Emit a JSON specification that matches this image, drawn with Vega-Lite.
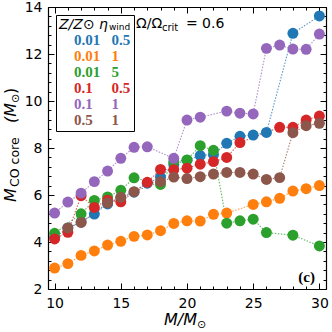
{
  "$schema": "https://vega.github.io/schema/vega-lite/v6.json",
  "width": 278,
  "height": 282,
  "autosize": {"type": "none"},
  "padding": {"left": 48, "top": 7, "right": 6, "bottom": 43},
  "background": "white",
  "config": {
    "view": {"stroke": null},
    "axis": {"grid": false, "domainColor": "black", "domainWidth": 1.2, "tickColor": "black", "tickWidth": 1, "labelFont": "DejaVu Sans", "labelFontSize": 14, "labelColor": "black"},
    "text": {"font": "DejaVu Sans", "color": "black"}
  },
  "datasets": {
    "runs": [
      {"model": "0.01|0.5", "M": 10, "Mco": 4.2}, {"model": "0.01|0.5", "M": 11, "Mco": 4.6}, {"model": "0.01|0.5", "M": 12, "Mco": 4.85}, {"model": "0.01|0.5", "M": 13, "Mco": 5.19}, {"model": "0.01|0.5", "M": 14, "Mco": 5.62}, {"model": "0.01|0.5", "M": 15, "Mco": 5.88}, {"model": "0.01|0.5", "M": 16, "Mco": 6.12}, {"model": "0.01|0.5", "M": 17, "Mco": 6.5}, {"model": "0.01|0.5", "M": 18, "Mco": 6.76}, {"model": "0.01|0.5", "M": 19, "Mco": 7.3}, {"model": "0.01|0.5", "M": 20, "Mco": 7.48}, {"model": "0.01|0.5", "M": 21, "Mco": 7.68}, {"model": "0.01|0.5", "M": 22, "Mco": 7.72}, {"model": "0.01|0.5", "M": 23, "Mco": 8.2}, {"model": "0.01|0.5", "M": 24, "Mco": 8.5}, {"model": "0.01|0.5", "M": 25, "Mco": 8.55}, {"model": "0.01|0.5", "M": 26, "Mco": 8.66}, {"model": "0.01|0.5", "M": 28, "Mco": 12.88}, {"model": "0.01|0.5", "M": 30, "Mco": 13.62},
      {"model": "0.01|1", "M": 10, "Mco": 2.89}, {"model": "0.01|1", "M": 11, "Mco": 3.08}, {"model": "0.01|1", "M": 12, "Mco": 3.43}, {"model": "0.01|1", "M": 13, "Mco": 3.62}, {"model": "0.01|1", "M": 14, "Mco": 3.87}, {"model": "0.01|1", "M": 15, "Mco": 4.03}, {"model": "0.01|1", "M": 16, "Mco": 4.24}, {"model": "0.01|1", "M": 17, "Mco": 4.3}, {"model": "0.01|1", "M": 18, "Mco": 4.48}, {"model": "0.01|1", "M": 19, "Mco": 4.79}, {"model": "0.01|1", "M": 20, "Mco": 4.9}, {"model": "0.01|1", "M": 21, "Mco": 4.89}, {"model": "0.01|1", "M": 22, "Mco": 5.18}, {"model": "0.01|1", "M": 23, "Mco": 5.23}, {"model": "0.01|1", "M": 25, "Mco": 5.6}, {"model": "0.01|1", "M": 26, "Mco": 5.71}, {"model": "0.01|1", "M": 27, "Mco": 5.86}, {"model": "0.01|1", "M": 28, "Mco": 6.17}, {"model": "0.01|1", "M": 29, "Mco": 6.27}, {"model": "0.01|1", "M": 30, "Mco": 6.4},
      {"model": "0.01|5", "M": 10, "Mco": 4.37}, {"model": "0.01|5", "M": 12, "Mco": 5.2}, {"model": "0.01|5", "M": 13, "Mco": 5.77}, {"model": "0.01|5", "M": 14, "Mco": 5.92}, {"model": "0.01|5", "M": 15, "Mco": 6.2}, {"model": "0.01|5", "M": 16, "Mco": 6.73}, {"model": "0.01|5", "M": 18, "Mco": 6.45}, {"model": "0.01|5", "M": 19, "Mco": 7.42}, {"model": "0.01|5", "M": 20, "Mco": 7.49}, {"model": "0.01|5", "M": 21, "Mco": 8.1}, {"model": "0.01|5", "M": 22, "Mco": 7.9}, {"model": "0.01|5", "M": 23, "Mco": 4.8}, {"model": "0.01|5", "M": 24, "Mco": 4.9}, {"model": "0.01|5", "M": 25, "Mco": 4.97}, {"model": "0.01|5", "M": 26, "Mco": 4.4}, {"model": "0.01|5", "M": 28, "Mco": 4.29}, {"model": "0.01|5", "M": 30, "Mco": 3.83},
      {"model": "0.1|0.5", "M": 10, "Mco": 4.13}, {"model": "0.1|0.5", "M": 11, "Mco": 4.41}, {"model": "0.1|0.5", "M": 12, "Mco": 5.97}, {"model": "0.1|0.5", "M": 13, "Mco": 5.47}, {"model": "0.1|0.5", "M": 14, "Mco": 5.78}, {"model": "0.1|0.5", "M": 15, "Mco": 5.71}, {"model": "0.1|0.5", "M": 17, "Mco": 6.54}, {"model": "0.1|0.5", "M": 18, "Mco": 7.09}, {"model": "0.1|0.5", "M": 19, "Mco": 7.08}, {"model": "0.1|0.5", "M": 20, "Mco": 7.14}, {"model": "0.1|0.5", "M": 21, "Mco": 7.31}, {"model": "0.1|0.5", "M": 22, "Mco": 7.42}, {"model": "0.1|0.5", "M": 23, "Mco": 7.6}, {"model": "0.1|0.5", "M": 24, "Mco": 8.23}, {"model": "0.1|0.5", "M": 27, "Mco": 8.88}, {"model": "0.1|0.5", "M": 28, "Mco": 8.88}, {"model": "0.1|0.5", "M": 29, "Mco": 9.19}, {"model": "0.1|0.5", "M": 30, "Mco": 9.36},
      {"model": "0.1|1", "M": 10, "Mco": 5.23}, {"model": "0.1|1", "M": 11, "Mco": 5.7}, {"model": "0.1|1", "M": 12, "Mco": 6.08}, {"model": "0.1|1", "M": 13, "Mco": 6.57}, {"model": "0.1|1", "M": 14, "Mco": 7.02}, {"model": "0.1|1", "M": 15, "Mco": 7.56}, {"model": "0.1|1", "M": 16, "Mco": 8.03}, {"model": "0.1|1", "M": 17, "Mco": 8.05}, {"model": "0.1|1", "M": 19, "Mco": 7.56}, {"model": "0.1|1", "M": 20, "Mco": 9.19}, {"model": "0.1|1", "M": 21, "Mco": 9.31}, {"model": "0.1|1", "M": 23, "Mco": 9.57}, {"model": "0.1|1", "M": 24, "Mco": 9.48}, {"model": "0.1|1", "M": 25, "Mco": 9.45}, {"model": "0.1|1", "M": 26, "Mco": 12.24}, {"model": "0.1|1", "M": 27, "Mco": 12.38}, {"model": "0.1|1", "M": 28, "Mco": 12.21}, {"model": "0.1|1", "M": 29, "Mco": 12.2}, {"model": "0.1|1", "M": 30, "Mco": 12.85},
      {"model": "0.5|1", "M": 11, "Mco": 4.6}, {"model": "0.5|1", "M": 12, "Mco": 4.83}, {"model": "0.5|1", "M": 14, "Mco": 5.66}, {"model": "0.5|1", "M": 15, "Mco": 5.9}, {"model": "0.5|1", "M": 16, "Mco": 6.14}, {"model": "0.5|1", "M": 18, "Mco": 6.57}, {"model": "0.5|1", "M": 19, "Mco": 6.76}, {"model": "0.5|1", "M": 20, "Mco": 6.7}, {"model": "0.5|1", "M": 21, "Mco": 6.78}, {"model": "0.5|1", "M": 22, "Mco": 6.89}, {"model": "0.5|1", "M": 23, "Mco": 6.96}, {"model": "0.5|1", "M": 24, "Mco": 6.96}, {"model": "0.5|1", "M": 25, "Mco": 6.89}, {"model": "0.5|1", "M": 26, "Mco": 6.66}, {"model": "0.5|1", "M": 27, "Mco": 6.74}, {"model": "0.5|1", "M": 28, "Mco": 8.65}, {"model": "0.5|1", "M": 29, "Mco": 8.95}, {"model": "0.5|1", "M": 30, "Mco": 9.05}
    ]
  },
  "data": {"name": "runs"},
  "resolve": {"axis": {"x": "independent", "y": "independent"}},
  "layer": [
    {
      "mark": {"type": "line", "strokeDash": [1.5, 1.5], "strokeWidth": 1.1, "opacity": 0.75},
      "encoding": {
        "x": {"field": "M", "type": "quantitative", "scale": {"domain": [9.5, 30.5], "nice": false, "zero": false}, "axis": {"orient": "bottom", "values": [10, 15, 20, 25, 30], "tickSize": -6, "labelPadding": 13, "title": null}},
        "y": {"field": "Mco", "type": "quantitative", "scale": {"domain": [2, 14], "nice": false, "zero": false}, "axis": {"orient": "left", "values": [2, 4, 6, 8, 10, 12, 14], "tickSize": -6, "labelPadding": 12, "title": null}},
        "color": {
          "field": "model", "type": "nominal",
          "scale": {"domain": ["0.01|0.5", "0.01|1", "0.01|5", "0.1|0.5", "0.1|1", "0.5|1"], "range": ["#1f77b4", "#ff7f0e", "#2ca02c", "#d62728", "#9467bd", "#8c564b"]},
          "legend": {
            "orient": "top-left", "offset": 8,
            "title": "Z/Z⊙\u00a0η",
            "titleFont": "DejaVu Sans", "titleFontStyle": "italic", "titleFontWeight": "normal", "titleFontSize": 14, "titleColor": "black", "titlePadding": 0,
            "labelFont": "Liberation Serif", "labelFontWeight": "bold", "labelFontSize": 15, "labelLimit": 300,
            "labelExpr": "{'0.01|0.5': '0.01\u00a0\u00a0\u00a00.5', '0.01|1': '0.01\u00a0\u00a0\u00a01', '0.01|5': '0.01\u00a0\u00a0\u00a05', '0.1|0.5': '0.1\u00a0\u00a0\u00a0\u00a0\u00a00.5', '0.1|1': '0.1\u00a0\u00a0\u00a0\u00a0\u00a01', '0.5|1': '0.5\u00a0\u00a0\u00a0\u00a0\u00a01'}[datum.label]",
            "symbolSize": 0, "symbolStrokeWidth": 0, "symbolOpacity": 0, "labelOffset": 0,
            "rowPadding": -3, "padding": 3,
            "strokeColor": "black", "fillColor": null, "cornerRadius": 0,
            "encode": {"labels": {"update": {"fill": {"scale": "color", "field": "value"}}}}
          }
        }
      }
    },
    {
      "mark": {"type": "circle", "size": 120, "opacity": 1},
      "encoding": {
        "x": {"field": "M", "type": "quantitative", "scale": {"domain": [9.5, 30.5], "nice": false, "zero": false}, "axis": {"orient": "top", "values": [10, 15, 20, 25, 30], "tickSize": -6, "labels": false, "title": null}},
        "y": {"field": "Mco", "type": "quantitative", "scale": {"domain": [2, 14], "nice": false, "zero": false}, "axis": {"orient": "right", "values": [2, 4, 6, 8, 10, 12, 14], "tickSize": -6, "labels": false, "title": null}},
        "color": {"field": "model", "type": "nominal", "legend": null}
      }
    },
    {
      "data": {"values": [{}]},
      "mark": {"type": "text", "text": "(c)", "font": "Liberation Serif", "fontWeight": "bold", "fontSize": 15, "align": "right", "baseline": "alphabetic"},
      "encoding": {
        "x": {"datum": 29.67, "type": "quantitative", "scale": {"domain": [9.5, 30.5], "nice": false, "zero": false}, "axis": {"orient": "bottom", "values": [10, 11, 12, 13, 14, 15, 16, 17, 18, 19, 20, 21, 22, 23, 24, 25, 26, 27, 28, 29, 30], "tickSize": -3, "labels": false, "domain": false, "title": null}},
        "y": {"datum": 2.3, "type": "quantitative", "scale": {"domain": [2, 14], "nice": false, "zero": false}, "axis": {"orient": "left", "values": [2, 2.4, 2.8, 3.2, 3.6, 4, 4.4, 4.8, 5.2, 5.6, 6, 6.4, 6.8, 7.2, 7.6, 8, 8.4, 8.8, 9.2, 9.6, 10, 10.4, 10.8, 11.2, 11.6, 12, 12.4, 12.8, 13.2, 13.6, 14], "tickSize": -3, "labels": false, "domain": false, "title": null}}
      }
    },
    {
      "data": {"values": [{}]},
      "mark": {"type": "text", "text": "Ω/Ω", "fontSize": 14, "align": "left", "baseline": "alphabetic"},
      "encoding": {
        "x": {"datum": 16.15, "type": "quantitative", "scale": {"domain": [9.5, 30.5], "nice": false, "zero": false}, "axis": {"orient": "top", "values": [10, 11, 12, 13, 14, 15, 16, 17, 18, 19, 20, 21, 22, 23, 24, 25, 26, 27, 28, 29, 30], "tickSize": -3, "labels": false, "domain": false, "title": null}},
        "y": {"datum": 13.1, "type": "quantitative", "scale": {"domain": [2, 14], "nice": false, "zero": false}, "axis": {"orient": "right", "values": [2, 2.4, 2.8, 3.2, 3.6, 4, 4.4, 4.8, 5.2, 5.6, 6, 6.4, 6.8, 7.2, 7.6, 8, 8.4, 8.8, 9.2, 9.6, 10, 10.4, 10.8, 11.2, 11.6, 12, 12.4, 12.8, 13.2, 13.6, 14], "tickSize": -3, "labels": false, "domain": false, "title": null}}
      }
    },
    {
      "data": {"values": [{}]},
      "mark": {"type": "text", "text": "crit", "fontSize": 10, "align": "left", "baseline": "alphabetic"},
      "encoding": {
        "x": {"datum": 18.11, "type": "quantitative", "axis": null},
        "y": {"datum": 13.0, "type": "quantitative", "axis": null}
      }
    },
    {
      "data": {"values": [{}]},
      "mark": {"type": "text", "text": "= 0.6", "fontSize": 14, "align": "left", "baseline": "alphabetic"},
      "encoding": {
        "x": {"datum": 19.92, "type": "quantitative", "axis": null},
        "y": {"datum": 13.1, "type": "quantitative", "axis": null}
      }
    },
    {
      "data": {"values": [{}]},
      "mark": {"type": "text", "text": "wind", "fontSize": 9, "align": "left", "baseline": "alphabetic"},
      "encoding": {
        "x": {"datum": 14.1, "type": "quantitative", "axis": null},
        "y": {"datum": 13.03, "type": "quantitative", "axis": null}
      }
    },
    {
      "data": {"values": [{}]},
      "mark": {"type": "text", "text": "M/M", "fontSize": 16, "fontStyle": "italic", "align": "left", "baseline": "alphabetic"},
      "encoding": {
        "x": {"datum": 18.26, "type": "quantitative", "axis": null},
        "y": {"datum": 0.47, "type": "quantitative", "axis": null}
      }
    },
    {
      "data": {"values": [{}]},
      "mark": {"type": "text", "text": "⊙", "fontSize": 11, "align": "left", "baseline": "alphabetic"},
      "encoding": {
        "x": {"datum": 20.76, "type": "quantitative", "axis": null},
        "y": {"datum": 0.34, "type": "quantitative", "axis": null}
      }
    },
    {
      "data": {"values": [{}]},
      "mark": {"type": "text", "text": "M", "fontSize": 16, "fontStyle": "italic", "angle": 270, "align": "left", "baseline": "alphabetic"},
      "encoding": {
        "x": {"datum": 7.083, "type": "quantitative", "axis": null},
        "y": {"datum": 5.70, "type": "quantitative", "axis": null}
      }
    },
    {
      "data": {"values": [{}]},
      "mark": {"type": "text", "text": "CO core", "fontSize": 12.5, "angle": 270, "align": "left", "baseline": "alphabetic"},
      "encoding": {
        "x": {"datum": 7.31, "type": "quantitative", "axis": null},
        "y": {"datum": 6.34, "type": "quantitative", "axis": null}
      }
    },
    {
      "data": {"values": [{}]},
      "mark": {"type": "text", "text": "(M", "fontSize": 16, "fontStyle": "italic", "angle": 270, "align": "left", "baseline": "alphabetic"},
      "encoding": {
        "x": {"datum": 7.083, "type": "quantitative", "axis": null},
        "y": {"datum": 9.064, "type": "quantitative", "axis": null}
      }
    },
    {
      "data": {"values": [{}]},
      "mark": {"type": "text", "text": "⊙", "fontSize": 11, "angle": 270, "align": "left", "baseline": "alphabetic"},
      "encoding": {
        "x": {"datum": 7.31, "type": "quantitative", "axis": null},
        "y": {"datum": 9.915, "type": "quantitative", "axis": null}
      }
    },
    {
      "data": {"values": [{}]},
      "mark": {"type": "text", "text": ")", "fontSize": 16, "angle": 270, "align": "left", "baseline": "alphabetic"},
      "encoding": {
        "x": {"datum": 7.083, "type": "quantitative", "axis": null},
        "y": {"datum": 10.30, "type": "quantitative", "axis": null}
      }
    }
  ]
}
